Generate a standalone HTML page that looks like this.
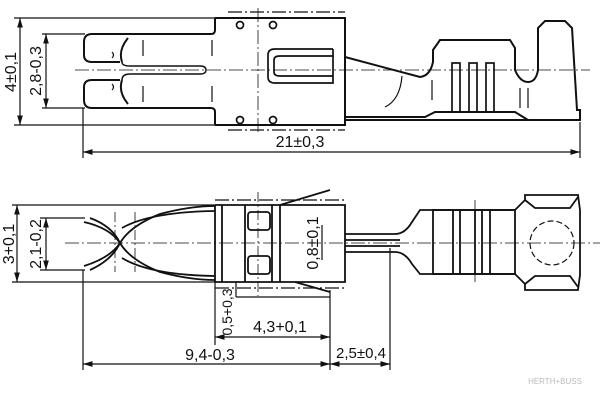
<!DOCTYPE html>
<html><head><meta charset="utf-8"><style>
html,body{margin:0;padding:0;background:#fff}
svg{display:block}
text{font-family:"Liberation Sans",sans-serif;fill:#111}
</style></head><body>
<svg width="600" height="400" viewBox="0 0 600 400" xmlns="http://www.w3.org/2000/svg">
<defs>
<marker id="a" viewBox="0 0 10 6" refX="10" refY="3" markerWidth="8" markerHeight="5" orient="auto-start-reverse"><path d="M0,0 L10,3 L0,6 z" fill="#111"/></marker>
</defs>
<g stroke="#111" fill="none" stroke-width="1.2">
<!-- TOP VIEW -->
<line x1="14" y1="18" x2="215" y2="18"/>
<line x1="14" y1="125" x2="215" y2="125"/>
<line x1="20" y1="18" x2="20" y2="125" marker-start="url(#a)" marker-end="url(#a)"/>
<line x1="42" y1="34" x2="85" y2="34"/>
<line x1="42" y1="108" x2="85" y2="108"/>
<line x1="46" y1="34" x2="46" y2="108" marker-start="url(#a)" marker-end="url(#a)"/>
<line x1="75" y1="70" x2="590" y2="70" stroke-width="0.7" stroke-dasharray="14,3,2,3"/>
<g stroke-width="2">
<path d="M215,18 V30 Q215,34 211,34 H92 Q84,34 84,42 V55 Q84,62 92,62 H120"/>
<path d="M215,125 V112 Q215,108 211,108 H92 Q84,108 84,100 V87 Q84,80 92,80 H120"/>
<path d="M128,38 Q118,50 122,62 M128,104 Q118,92 122,80"/>
<path d="M122,62 Q122,66 130,66 H200 Q206,66 206,70 Q206,74 200,74 H130 Q122,74 122,80" stroke-width="1.4"/>
<path d="M215,18 H345 V125 H215"/>
<path d="M345,57 L420,77 Q430,76 433,62 V50 L440,40 H510 L515,48 V70 Q520,82 528,82 Q536,82 538,70 V28 L545,21 H565 L572,28 L577,110 H580 V120 H345"/>
<path d="M345,117 H425 L435,112 H515 L528,120"/>
</g>
<path d="M228,12 H345 M228,130 H345" stroke-dasharray="14,3,2,3"/>
<line x1="258" y1="8" x2="258" y2="132" stroke-dasharray="14,3,2,3" stroke-width="0.8"/>
<path d="M333,49 H275 Q268,49 268,55 V77 Q268,83 275,83 H333 V49" stroke-width="1.7"/>
<path d="M333,56 H280 Q274,56 274,60 V72 Q274,76 280,76 H333" stroke-width="1.7"/>
<g stroke-width="1.7">
<circle cx="240" cy="25" r="3.5"/><circle cx="273" cy="25" r="3.5"/>
<circle cx="240" cy="120" r="3.5"/><circle cx="273" cy="120" r="3.5"/>
<rect x="452" y="63" width="8" height="49"/><rect x="469" y="63" width="8" height="49"/><rect x="486" y="63" width="8" height="49"/>
</g>
<path d="M112,52 Q115,55 112,58 M112,84 Q115,87 112,90 M143,40 V56 M143,86 V102 M212,40 V56 M212,86 V102 M402,76 Q400,100 385,107 M432,80 V100 M520,88 V108 M528,88 V108"/>
<line x1="83" y1="108" x2="83" y2="158"/>
<line x1="580" y1="122" x2="580" y2="158"/>
<line x1="83" y1="152" x2="580" y2="152" marker-start="url(#a)" marker-end="url(#a)"/>
<!-- BOTTOM VIEW -->
<line x1="12" y1="205" x2="215" y2="205"/>
<line x1="12" y1="282" x2="215" y2="282"/>
<line x1="17" y1="205" x2="17" y2="282" marker-start="url(#a)" marker-end="url(#a)"/>
<line x1="40" y1="218" x2="85" y2="218"/>
<line x1="40" y1="270" x2="85" y2="270"/>
<line x1="46" y1="218" x2="46" y2="270" marker-start="url(#a)" marker-end="url(#a)"/>
<line x1="65" y1="243" x2="600" y2="243" stroke-width="0.7" stroke-dasharray="14,3,2,3"/>
<g stroke-width="1.8">
<path d="M84,222 Q110,228 120,243 Q130,226 160,214 Q190,206 215,206"/>
<path d="M84,266 Q110,258 120,243 Q130,260 160,272 Q190,280 215,280"/>
<path d="M90,218 Q112,226 120,243 M90,270 Q112,260 120,243"/>
<path d="M122,228 Q150,212 215,211 M122,258 Q150,275 215,276"/>
<path d="M215,205 V282 M222,205 V282 M215,205 H345 V282 H215"/>
<path d="M280,205 V282"/>
<path d="M245,205 V282 M272,205 V282"/>
<rect x="248" y="212" width="22" height="18" rx="3"/><rect x="248" y="256" width="22" height="18" rx="3"/>
<path d="M280,205 L330,190 M295,282 L330,292"/>
<path d="M345,234 H395 Q405,234 412,222 L420,210 H515 L525,200 V195 H578 L580,210 V275 L578,290 H525 V284 L515,274 H420 L412,264 Q405,252 395,252 H345"/>
<path d="M345,240 H400 M345,246 H400"/>
<rect x="433" y="210" width="82" height="64"/>
<path d="M453,210 V274 M460,210 V274 M475,210 V274 M482,210 V274 M490,210 V274"/>
<path d="M525,200 L535,208 H570 L578,197 M525,284 L535,276 H570 L578,287"/>
</g>
<path d="M215,200 H345 M215,288 H345" stroke-dasharray="14,3,2,3"/>
<path d="M115,212 V272 M135,212 V272 M258,192 V296 M475,200 V285" stroke-dasharray="10,3,2,3" stroke-width="0.8"/>
<circle cx="552" cy="243" r="22" stroke-dasharray="6,3"/>
<line x1="83" y1="270" x2="83" y2="370"/>
<line x1="215" y1="282" x2="215" y2="345"/>
<line x1="330" y1="290" x2="330" y2="370"/>
<line x1="390" y1="248" x2="390" y2="370"/>
<line x1="236" y1="282" x2="236" y2="297"/>
<line x1="236" y1="297" x2="330" y2="297"/>
<line x1="215" y1="337" x2="330" y2="337" marker-start="url(#a)" marker-end="url(#a)"/>
<line x1="83" y1="364" x2="330" y2="364" marker-start="url(#a)" marker-end="url(#a)"/>
<line x1="330" y1="364" x2="390" y2="364" marker-start="url(#a)" marker-end="url(#a)"/>
<line x1="322" y1="225" x2="322" y2="260"/>
</g>
<g font-size="16">
<text transform="translate(16,72) rotate(-90)" text-anchor="middle">4±0,1</text>
<text transform="translate(41,71) rotate(-90)" text-anchor="middle">2,8-0,3</text>
<text x="300" y="147" text-anchor="middle">21±0,3</text>
<text transform="translate(14,244) rotate(-90)" text-anchor="middle">3+0,1</text>
<text transform="translate(41,244) rotate(-90)" text-anchor="middle">2,1-0,2</text>
<text transform="translate(318,243) rotate(-90)" text-anchor="middle">0,8±0,1</text>
<text transform="translate(232,312) rotate(-90)" text-anchor="middle" font-size="14">0,5+0,3</text>
<text x="280" y="332" text-anchor="middle">4,3+0,1</text>
<text x="210" y="360" text-anchor="middle">9,4-0,3</text>
<text x="361" y="358" text-anchor="middle" font-size="15">2,5±0,4</text>
</g>
<text x="555" y="384" text-anchor="middle" font-size="8" style="fill:#bbb">HERTH+BUSS</text>
</svg>
</body></html>
